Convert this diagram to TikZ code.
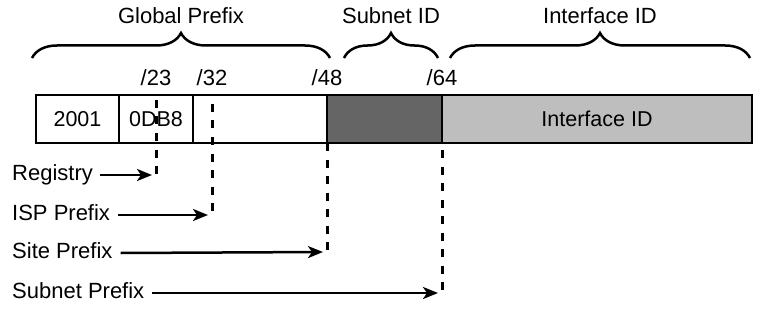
\documentclass[tikz,border=0pt]{standalone}
\usepackage{fontspec}
\setmainfont{Liberation Sans}
\usetikzlibrary{arrows.meta,decorations.pathreplacing}
\definecolor{darkseg}{HTML}{656565}
\definecolor{lightseg}{HTML}{BEBEBE}
\tikzset{
  seg/.style={draw=black, line width=2.8pt, inner sep=0pt, outer sep=0pt, minimum height=48pt, font=\fontsize{21.5}{24}\selectfont},
  lbl/.style={inner sep=0pt, font=\fontsize{22}{26}\selectfont, text height=16pt, text depth=5pt},
  toplbl/.style={inner sep=0pt, font=\fontsize{22}{26}\selectfont, anchor=base},
  bracestyle/.style={draw=black, line width=2.5pt, decorate, decoration={brace, amplitude=25pt}},
  dashline/.style={draw=black, line width=3pt, dash pattern=on 8pt off 8.5pt},
  arr/.style={draw=black, line width=2.5pt, -{Stealth[length=15pt,width=12pt,inset=4pt]}}
}
\begin{document}
\begin{tikzpicture}[x=1pt,y=-1pt]
\useasboundingbox (0,0) rectangle (765,310);
% bar segments
\node[seg, fill=white, minimum width=83pt] (s1) at (77.5,119) {2001};
\node[seg, fill=white, minimum width=74pt] (s2) at (156,119) {0DB8};
\node[seg, fill=white, minimum width=134pt] (s3) at (260,119) {};
\node[seg, fill=darkseg, minimum width=115pt] (s4) at (384.5,119) {};
\node[seg, fill=lightseg, minimum width=310pt] (s5) at (597,119) {Interface ID};
% braces
\coordinate (bg1) at (32,58); \coordinate (bg2) at (330,58);
\coordinate (bs1) at (344,58); \coordinate (bs2) at (438,58);
\coordinate (bi1) at (450,58); \coordinate (bi2) at (750,58);
\draw[bracestyle] (bg1) -- (bg2);
\draw[bracestyle] (bs1) -- (bs2);
\draw[bracestyle] (bi1) -- (bi2);
\node[toplbl] (tg) at (181,24) {Global Prefix};
\node[toplbl] (ts) at (391,24) {Subnet ID};
\node[toplbl] (ti) at (600,24) {Interface ID};
% prefix length labels
\node[toplbl] (p23) at (156,86) {/23};
\node[toplbl] (p32) at (212,86) {/32};
\node[toplbl] (p48) at (327,86) {/48};
\node[toplbl] (p64) at (442,86) {/64};
% dashed lines
\coordinate (d1t) at (156,100); \coordinate (d1b) at (156,175);
\coordinate (d2t) at (212,104); \coordinate (d2b) at (212,215);
\coordinate (d3t) at (327,143); \coordinate (d3b) at (327,253);
\coordinate (d4t) at (442,150); \coordinate (d4b) at (442,294);
\draw[dashline] (d1t) -- (d1b);
\draw[dashline] (d2t) -- (d2b);
\draw[dashline] (d3t) -- (d3b);
\draw[dashline] (d4t) -- (d4b);
% labels and arrows
\node[lbl, anchor=west] (reg) at (12,175) {Registry};
\node[lbl, anchor=west] (isp) at (12,215) {ISP Prefix};
\node[lbl, anchor=west] (site) at (12,253) {Site Prefix};
\node[lbl, anchor=west] (sub) at (12,293) {Subnet Prefix};
\draw[arr] ([xshift=7pt]reg.east) -- ([xshift=-4pt]d1b);
\draw[arr] ([xshift=8pt]isp.east) -- ([xshift=-4pt]d2b);
\draw[arr] ([xshift=8pt]site.east) -- ([xshift=-4pt,yshift=1pt]d3b);
\draw[arr] ([xshift=8pt]sub.east) -- ([xshift=-4pt,yshift=1pt]d4b);
\end{tikzpicture}
\end{document}
